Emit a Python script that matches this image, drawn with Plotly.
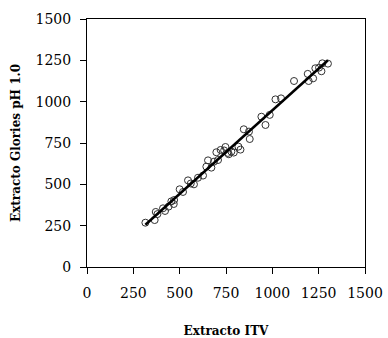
import numpy as np
import plotly.graph_objects as go

itv = [315, 365, 371, 410, 421, 455, 468, 470, 500, 518, 545, 577, 599, 626, 644, 653, 671, 685,
       707, 698, 721, 747, 765, 779, 792, 817, 828, 846, 874, 878, 941, 963, 986, 1017, 1047,
       1117, 1191, 1196, 1220, 1232, 1252, 1265, 1270, 1300, 380, 440, 560, 740, 760]
glories = [268, 284, 333, 355, 339, 397, 381, 405, 470, 454, 524, 500, 540, 553, 607, 645, 601, 637,
           647, 694, 708, 726, 682, 698, 692, 728, 710, 833, 819, 774, 909, 859, 920, 1014, 1020,
           1125, 1168, 1125, 1141, 1202, 1206, 1184, 1232, 1230, 320, 365, 505, 705, 690]

x_ticks = [0, 250, 500, 750, 1000, 1250, 1500]
y_ticks = [0, 250, 500, 750, 1000, 1250, 1500]

slope, intercept = np.polyfit(itv, glories, 1)
xl = np.array([min(itv), max(itv)])
yl = slope * xl + intercept

fig = go.Figure()
fig.add_trace(go.Scatter(x=itv, y=glories, mode="markers",
                         marker=dict(symbol="circle-open", size=7, color="#333333",
                                     line=dict(width=1, color="#333333")),
                         showlegend=False))
fig.add_trace(go.Scatter(x=xl, y=yl, mode="lines", line=dict(color="black", width=2.5),
                         showlegend=False))

axis_common = dict(showline=True, linecolor="black", linewidth=1, mirror=True,
                   ticks="outside", ticklen=6, tickcolor="black", tickwidth=1,
                   showgrid=False, zeroline=False, automargin=False,
                   tickfont=dict(family="DejaVu Serif", size=14, color="black"))
fig.update_xaxes(range=[0, 1500], tickvals=x_ticks, ticktext=[str(v) for v in x_ticks],
                 title=dict(text="<b>Extracto ITV</b>", font=dict(family="DejaVu Serif", size=12, color="black"),
                            standoff=32),
                 ticklabelstandoff=7, **axis_common)
fig.update_yaxes(range=[0, 1500], tickvals=y_ticks, ticktext=[str(v) for v in y_ticks],
                 title=dict(text="<b>Extracto Glories pH 1.0</b>", font=dict(family="DejaVu Serif", size=12, color="black"),
                            standoff=12),
                 ticklabelstandoff=6, **axis_common)
fig.update_layout(width=388, height=338, margin=dict(l=87, r=23, t=19, b=71),
                  paper_bgcolor="white", plot_bgcolor="white")
fig.write_html("out.html")
